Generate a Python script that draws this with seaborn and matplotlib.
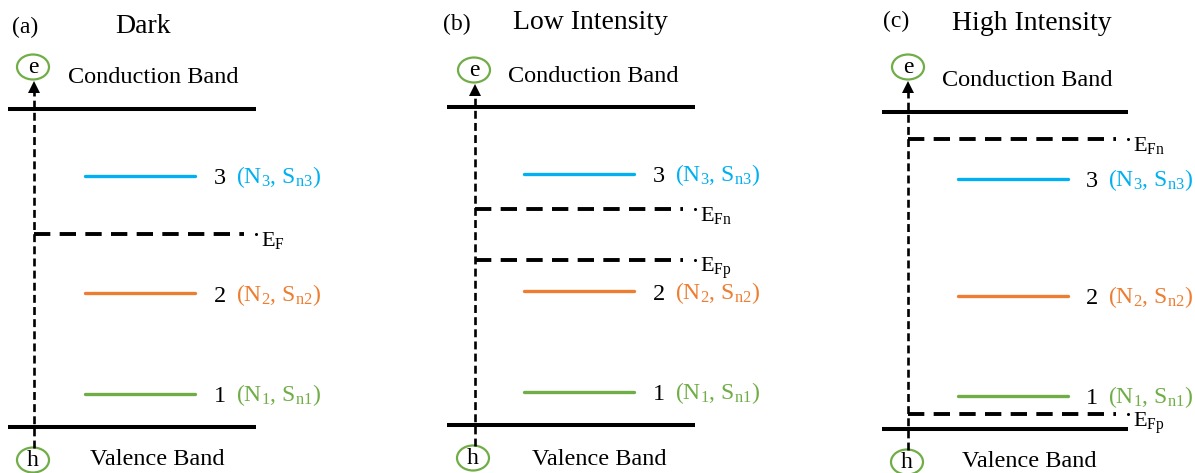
import matplotlib
matplotlib.use("Agg")
import matplotlib.pyplot as plt
from matplotlib.patches import Ellipse
import pandas as pd
import seaborn as sns

# ---- data -------------------------------------------------------------
# energies are fractions of the band gap: valence band = 0, conduction band = 1
trap_ids = ["1", "2", "3"]
trap_energy = [0.105, 0.42, 0.79]
trap_labels = [r"(N$_1$, S$_{\rm n1}$)", r"(N$_2$, S$_{\rm n2}$)", r"(N$_3$, S$_{\rm n3}$)"]
trap_colors = ["#70AD47", "#ED7D31", "#00B0F0"]

panel_tags = ["(a)", "(b)", "(c)"]
panel_titles = ["Dark", "Low Intensity", "High Intensity"]

fermi_energy = [[0.608], [0.68, 0.52], [0.915, 0.047]]
fermi_labels = [[r"E$_{\rm F}$"],
                [r"E$_{\rm Fn}$", r"E$_{\rm Fp}$"],
                [r"E$_{\rm Fn}$", r"E$_{\rm Fp}$"]]

band_labels = ["Conduction Band", "Valence Band"]
carrier_labels = ["e", "h"]

# ---- style ------------------------------------------------------------
sns.set_theme(style="white")
plt.rcParams["font.family"] = ["Liberation Serif", "DejaVu Serif"]
plt.rcParams["mathtext.fontset"] = "custom"
plt.rcParams["mathtext.rm"] = "Liberation Serif"
plt.rcParams["mathtext.it"] = "Liberation Serif:italic"
plt.rcParams["mathtext.bf"] = "Liberation Serif:bold"

W, H = 1195, 473
fig = plt.figure(figsize=(W / 100, H / 100), dpi=100)
fig.patch.set_facecolor("white")

# per-panel layout in pixels
layout = [
    dict(bl=8, br=256, cb=109, vb=427, ax=34, tag=(12, 33), title=(143, 33),
         cbt=(68, 83), vbt=(90, 465), e=(33, 67), h=(33, 460)),
    dict(bl=447, br=695, cb=107, vb=425, ax=475, tag=(443, 30), title=(590, 29),
         cbt=(508, 82), vbt=(532, 465), e=(474, 70), h=(473, 458)),
    dict(bl=882, br=1128, cb=112, vb=429, ax=908, tag=(883, 27), title=(1032, 30),
         cbt=(942, 86), vbt=(962, 467), e=(908, 67), h=(907, 462)),
]

GREEN = "#70AD47"
FS = 17.5

for i, L in enumerate(layout):
    w = L["br"] - L["bl"]
    span = L["vb"] - L["cb"]
    X = lambda px, L=L, w=w: (px - L["bl"]) / w
    Y = lambda py, L=L, span=span: (L["vb"] - py) / span

    ax = fig.add_axes([0, 0, 1, 1])
    ax.set_facecolor("none")
    ax.set_xlim(X(0), X(W))
    ax.set_ylim(Y(H), Y(0))
    ax.axis("off")

    # band edges
    ax.hlines([0, 1], 0, 1, color="black", lw=2.9)

    # trap levels
    df = pd.DataFrame({
        "x": [0.31, 0.755] * len(trap_ids),
        "E": [e for e in trap_energy for _ in range(2)],
        "level": [t for t in trap_ids for _ in range(2)],
    })
    sns.lineplot(data=df, x="x", y="E", hue="level", palette=dict(zip(trap_ids, trap_colors)),
                 units="level", estimator=None, lw=2.4, legend=False, ax=ax)
    ax.set_xlabel("")
    ax.set_ylabel("")
    for tid, e, lab, col in zip(trap_ids, trap_energy, trap_labels, trap_colors):
        ax.annotate(tid, (0.855, e), xytext=(0, -6), textcoords="offset points",
                    ha="center", va="baseline", fontsize=FS, color="black")
        ax.annotate(lab, (0.92, e), xytext=(0, -5.5), textcoords="offset points",
                    ha="left", va="baseline", fontsize=17, color=col)

    # vertical transport arrow
    xa = X(L["ax"])
    y_top = Y(L["e"][1] + 16)
    y_bot = Y(L["h"][1] - 12)
    ax.plot([xa, xa], [y_bot, y_top - 0.02], color="black", lw=1.9, dashes=(3, 1.6))
    ax.plot([xa], [y_top - 0.013], marker="^", ms=8.5, color="black", mew=0)

    # Fermi levels
    for e, lab in zip(fermi_energy[i], fermi_labels[i]):
        ax.plot([xa, 0.95], [e, e], color="black", lw=2.8, dashes=(4.2, 2.4),
                solid_capstyle="butt", dash_capstyle="butt")
        ax.plot([0.998], [e], marker="o", ms=2.2, color="black", mew=0)
        ax.annotate(lab, (1.02, e), xytext=(0, -9), textcoords="offset points",
                    ha="left", va="baseline", fontsize=16, color="black")

    # carriers
    for (cx, cy), sym in zip([L["e"], L["h"]], carrier_labels):
        ax.add_patch(Ellipse((X(cx), Y(cy)), 32 / w, 25 / span, fill=False,
                             edgecolor=GREEN, lw=1.6, clip_on=False))
        ax.text(X(cx), Y(cy), sym, ha="center", va="center", fontsize=17, color="black")

    # band names, tag and title
    ax.text(X(L["cbt"][0]), Y(L["cbt"][1]), band_labels[0], ha="left", va="baseline",
            fontsize=FS, color="black")
    ax.text(X(L["vbt"][0]), Y(L["vbt"][1]), band_labels[1], ha="left", va="baseline",
            fontsize=FS, color="black")
    ax.text(X(L["tag"][0]), Y(L["tag"][1]), panel_tags[i], ha="left", va="baseline",
            fontsize=17, color="black")
    ax.text(X(L["title"][0]), Y(L["title"][1]), panel_titles[i], ha="center", va="baseline",
            fontsize=20, color="black")

fig.savefig("out.png", dpi=100, facecolor="white")
